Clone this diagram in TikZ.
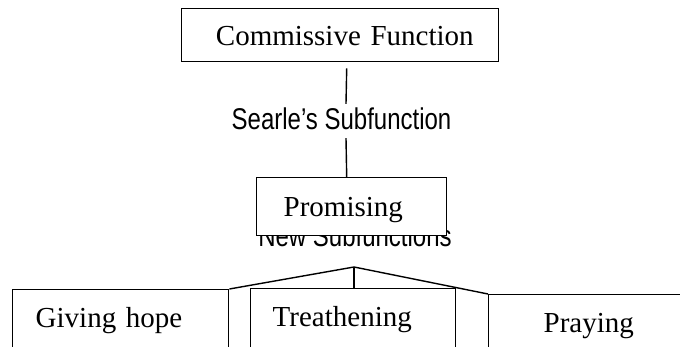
\documentclass[tikz,border=0pt]{standalone}
\usepackage{fontspec}
\setmainfont{Liberation Serif}
\newfontfamily\narrowsans[FakeStretch=0.8]{Liberation Sans}
\usepackage{tikz}
\usetikzlibrary{positioning}

\begin{document}
\begin{tikzpicture}[
  x=1pt, y=-1pt,
  box/.style={draw, fill=white, line width=1.4pt, anchor=north west, inner sep=0pt, align=left, text height=20pt, text depth=0pt, font=\fontsize{29}{34}\selectfont},
  leaf/.style={box, minimum height=80pt, text depth=24pt},
  txt/.style={anchor=base, inner sep=4pt, text height=22pt, text depth=0pt, font=\narrowsans\fontsize{30}{36}\selectfont},
  link/.style={line width=1.4pt}
]
  \useasboundingbox (0,0) rectangle (680,347);
  \clip (0,0) rectangle (680,347);

  \node[box, align=right, text width=267pt, minimum width=317pt, minimum height=53pt] (commissive) at (181,8) {Commissive Function};
  \node[txt] (searle) at (341.5,130) {Searle’s Subfunction};
  \node[txt] (newsub) at (355,247) {New Subfunctions};
  \node[box, text width=136pt, minimum width=190pt, minimum height=58pt] (promising) at (256,177) {Promising};
  \coordinate (fork) at (354,267);
  \node[leaf, text width=170pt, minimum width=216pt] (hope) at (12,289) {Giving hope};
  \node[leaf, text width=161pt, minimum width=205pt] (threat) at (250,288) {Treathening};
  \node[leaf, text width=102pt, minimum width=212pt] (pray) at (488,294) {Praying};

  \draw[link] ([xshift=6.5pt, yshift=-6pt]commissive.south) -- ([xshift=4.5pt]searle.north);
  \draw[link] ([xshift=4.5pt, yshift=-4pt]searle.south) -- ([xshift=-5pt]promising.north);
  \draw[link] (fork) -- (hope.north east);
  \draw[link] (fork) -- (fork |- threat.north);
  \draw[link] (fork) -- (pray.north west);
\end{tikzpicture}
\end{document}
